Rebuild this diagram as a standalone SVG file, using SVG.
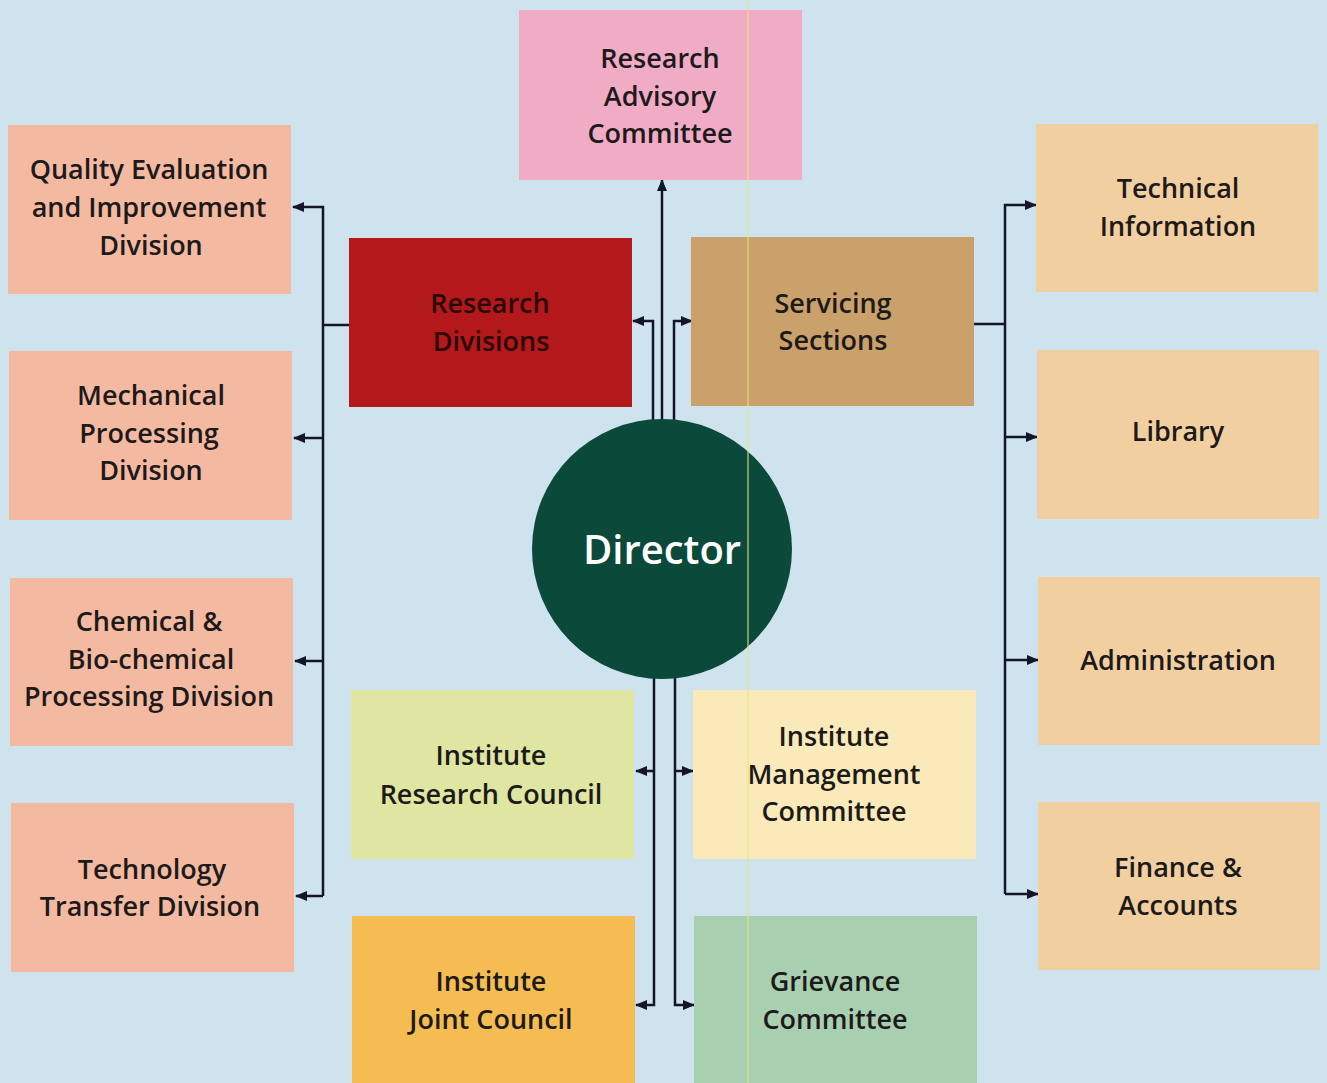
<svg xmlns="http://www.w3.org/2000/svg" width="1327" height="1083" viewBox="0 0 1327 1083">
<defs>
<marker id="ah" viewBox="0 0 12 10" refX="11" refY="5" markerWidth="12" markerHeight="10" markerUnits="userSpaceOnUse" orient="auto">
<path d="M0,0 L12,5 L0,10 Z" fill="#14142a"/>
</marker>
<style>
.t{font-family:"Open Sans","Noto Sans","Liberation Sans",sans-serif;font-size:27px;font-weight:600;fill:#1c1a1a;text-anchor:middle}
.d{font-family:"Open Sans","Noto Sans","Liberation Sans",sans-serif;font-size:40px;font-weight:600;fill:#ffffff;text-anchor:middle}
.c{fill:none;stroke:#14142a;stroke-width:2.5}
.ca{fill:none;stroke:#14142a;stroke-width:2.5;marker-end:url(#ah)}
.lft{fill:#f4b9a1}
.rgt{fill:#f2cfa1}
</style>
</defs>
<rect width="1327" height="1083" fill="#cfe3ef"/>

<g id="connectors">
<path class="ca" d="M662,420 V180"/>
<path class="ca" d="M653,420 V321 H633"/>
<path class="ca" d="M674,420 V321 H692"/>
<path class="ca" d="M654,678 V1005 H636"/>
<path class="ca" d="M675,678 V1005 H694"/>
<path class="ca" d="M654,771 H636"/>
<path class="ca" d="M675,771 H693"/>
<path class="c" d="M349,325 H323"/>
<path class="ca" d="M323,896 V207 H293"/>
<path class="ca" d="M323,438 H294"/>
<path class="ca" d="M323,661 H295"/>
<path class="ca" d="M323,896 H296"/>
<path class="c" d="M974,324 H1005"/>
<path class="ca" d="M1005,894 V205 H1036"/>
<path class="ca" d="M1005,437 H1037"/>
<path class="ca" d="M1005,660 H1038"/>
<path class="ca" d="M1005,894 H1038"/>
</g>

<g id="rac"><rect x="519" y="10" width="283" height="170" fill="#f0abc5"/>
<text class="t" x="660" y="68">Research</text><text class="t" x="660" y="106">Advisory</text><text class="t" x="660" y="143">Committee</text></g>

<g id="qeid"><rect class="lft" x="8" y="125" width="283" height="169"/>
<text class="t" x="149" y="179">Quality Evaluation</text><text class="t" x="149" y="217">and Improvement</text><text class="t" x="151" y="255">Division</text></g>

<g id="mpd"><rect class="lft" x="9" y="351" width="283" height="169"/>
<text class="t" x="151" y="405">Mechanical</text><text class="t" x="149" y="443">Processing</text><text class="t" x="151" y="480">Division</text></g>

<g id="cbpd"><rect class="lft" x="10" y="578" width="283" height="168"/>
<text class="t" x="149" y="631">Chemical &amp;</text><text class="t" x="151" y="669">Bio-chemical</text><text class="t" x="149" y="706">Processing Division</text></g>

<g id="ttd"><rect class="lft" x="11" y="803" width="283" height="169"/>
<text class="t" x="152" y="879">Technology</text><text class="t" x="150" y="916">Transfer Division</text></g>

<g id="rd"><rect x="349" y="238" width="283" height="169" fill="#b3191a"/>
<text class="t" x="490" y="313" style="fill:#2a0808">Research</text><text class="t" x="491" y="351" style="fill:#2a0808">Divisions</text></g>

<g id="ss"><rect x="691" y="237" width="283" height="169" fill="#caa16b"/>
<text class="t" x="833" y="313">Servicing</text><text class="t" x="833" y="350">Sections</text></g>

<g id="ti"><rect class="rgt" x="1036" y="124" width="282" height="168"/>
<text class="t" x="1178" y="198">Technical</text><text class="t" x="1178" y="236">Information</text></g>

<g id="lib"><rect class="rgt" x="1037" y="350" width="282" height="169"/>
<text class="t" x="1178" y="441">Library</text></g>

<g id="adm"><rect class="rgt" x="1038" y="577" width="282" height="168"/>
<text class="t" x="1178" y="670">Administration</text></g>

<g id="fa"><rect class="rgt" x="1038" y="802" width="282" height="168"/>
<text class="t" x="1178" y="877">Finance &amp;</text><text class="t" x="1178" y="915">Accounts</text></g>

<g id="irc"><rect x="351" y="690" width="283" height="169" fill="#dfe6a2"/>
<text class="t" x="491" y="765">Institute</text><text class="t" x="491" y="804">Research Council</text></g>

<g id="imc"><rect x="693" y="690" width="283" height="169" fill="#fbeab9"/>
<text class="t" x="834" y="746">Institute</text><text class="t" x="834" y="784">Management</text><text class="t" x="834" y="821">Committee</text></g>

<g id="ijc"><rect x="352" y="916" width="283" height="167" fill="#f5bc52"/>
<text class="t" x="491" y="991">Institute</text><text class="t" x="491" y="1029">Joint Council</text></g>

<g id="gc"><rect x="694" y="916" width="283" height="167" fill="#a9cfb1"/>
<text class="t" x="835" y="991">Grievance</text><text class="t" x="835" y="1029">Committee</text></g>

<g id="director"><circle cx="662" cy="549" r="130" fill="#0b4a3b"/>
<text class="d" x="662" y="564">Director</text></g>

<line x1="748" y1="0" x2="748" y2="1083" stroke="#e6e680" stroke-width="1.5" opacity="0.7"/>
</svg>
